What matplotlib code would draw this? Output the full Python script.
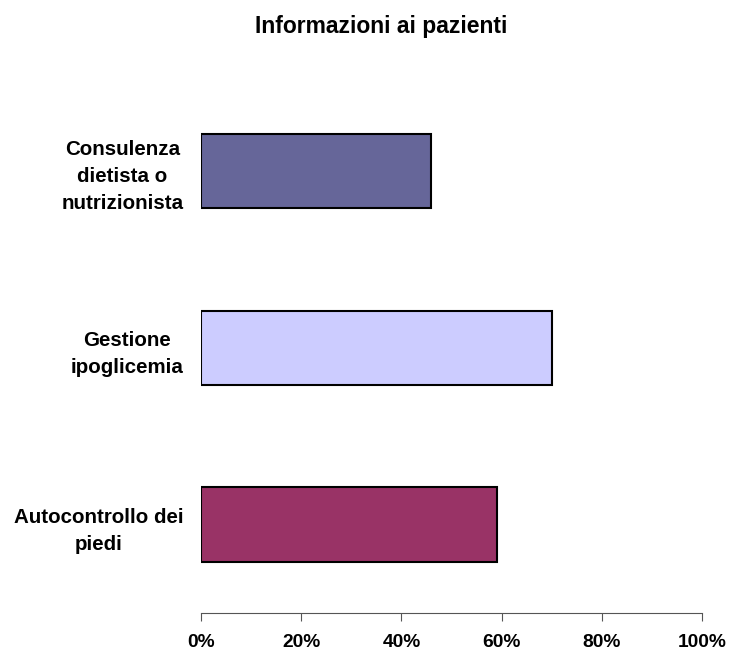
import matplotlib as mpl
mpl.use("agg")
import matplotlib.pyplot as plt
from matplotlib.ticker import PercentFormatter

plt.rcParams['font.family'] = ['Liberation Sans', 'DejaVu Sans']

# dati (dal basso verso l'alto)
categorie = ["Autocontrollo dei\npiedi", "Gestione\nipoglicemia", "Consulenza\ndietista o\nnutrizionista"]
valori = [59, 70, 46]
colori = ["#993366", "#CCCCFF", "#666699"]
tick_x = [0, 20, 40, 60, 80, 100]

fig = plt.figure(figsize=(7.43, 6.53), dpi=100)
ax = fig.add_axes([0.2705, 0.0613, 0.6743, 0.8124])

ax.barh(range(len(valori)), valori, height=0.42, color=colori, edgecolor="black", linewidth=1.5)

ax.set_xlim(0, 100)
ax.set_ylim(-0.5, len(valori) - 0.5)
ax.set_xticks(tick_x)
ax.xaxis.set_major_formatter(PercentFormatter(decimals=0))
ax.set_yticks(range(len(valori)))
ax.set_yticklabels(categorie, fontsize=14.8, fontweight="bold", linespacing=1.53,
                   multialignment="center")

for s in ["top", "right", "left"]:
    ax.spines[s].set_visible(False)
ax.spines["bottom"].set_color("#555555")
ax.tick_params(axis="y", length=0, pad=12.5)
ax.tick_params(axis="x", length=6, color="#555555", labelsize=13.8, pad=9.5)
for t in ax.get_xticklabels():
    t.set_fontweight("bold")

fig.suptitle("Informazioni ai pazienti", x=0.513, y=0.977, fontsize=16.5, fontweight="bold")

fig.savefig("out.png")
